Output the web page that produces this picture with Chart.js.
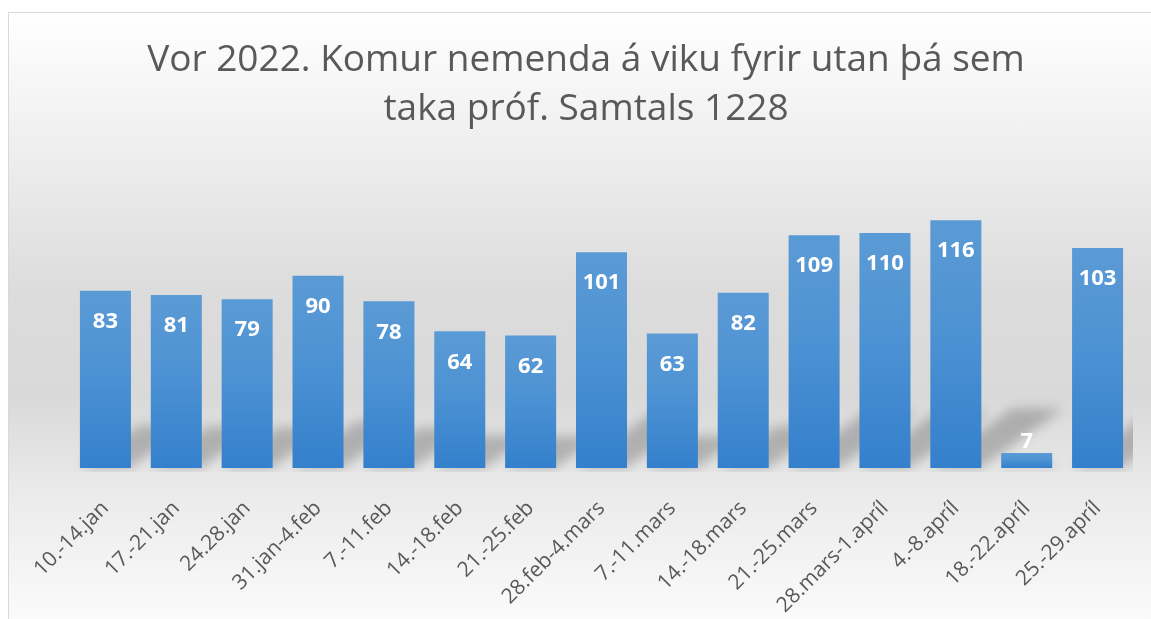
<!DOCTYPE html>
<html>
<head>
<meta charset="utf-8">
<script src="https://cdn.jsdelivr.net/npm/chart.js@4"></script>
<style>
  html, body { margin:0; padding:0; background:#fff; overflow:hidden; }
  .frame {
    position:absolute; left:8px; top:12px; width:1160px; height:620px;
    border:1px solid #d9d9d9; box-sizing:border-box;
    background:linear-gradient(to bottom, #ffffff 0%, #ececec 25%, #dcdcdc 45%, #d9d9d9 62%, #ebebeb 78%, #fcfcfc 100%);
  }
  .wrap { position:absolute; left:0; top:0; width:1142px; height:606px; }
</style>
</head>
<body>
<div class="frame"><div class="wrap"><canvas id="weeksChart"></canvas></div></div>
<script>
// Vor 2022 - komur nemenda á viku
const weeks = ['10.-14.jan','17.-21.jan','24.28.jan','31.jan-4.feb','7.-11.feb','14.-18.feb','21.-25.feb',
  '28.feb-4.mars','7.-11.mars','14.-18.mars','21.-25.mars','28.mars-1.apríl','4.-8.apríl','18.-22.apríl','25.-29.apríl'];
const visits = [83, 81, 79, 90, 78, 64, 62, 101, 63, 82, 109, 110, 116, 7, 103];
const titleLines = ['Vor 2022. Komur nemenda á viku fyrir utan þá sem', 'taka próf. Samtals 1228'];

const FONT = '"Open Sans", "Noto Sans", sans-serif';

function barGradient(c) {
  const chart = c.chart;
  if (!chart.chartArea || !c.parsed) return '#4a90d4';
  const y = chart.scales.y;
  const top = y.getPixelForValue(c.parsed.y), base = y.getPixelForValue(0);
  const g = chart.ctx.createLinearGradient(0, top, 0, base);
  g.addColorStop(0, '#5b9bd5');
  g.addColorStop(0.45, '#4d92d3');
  g.addColorStop(1, '#3480cc');
  return g;
}

// slanted soft shadow behind each bar
const barShadows = {
  id: 'barShadows',
  beforeDatasetsDraw(chart) {
    const { ctx, chartArea } = chart;
    ctx.save();
    ctx.beginPath();
    ctx.rect(chartArea.left, chartArea.top, chartArea.right - chartArea.left, chartArea.bottom - chartArea.top + 4);
    ctx.clip();
    ctx.filter = 'blur(6px)';
    ctx.fillStyle = 'rgba(0,0,0,0.22)';
    chart.getDatasetMeta(0).data.forEach(bar => {
      const h = bar.base - bar.y, w = bar.width;
      const dx = h * 0.33, dy = h * 0.24;
      const l = bar.x - w / 2, r = bar.x + w / 2;
      ctx.beginPath();
      ctx.moveTo(l, bar.base);
      ctx.lineTo(r, bar.base);
      ctx.lineTo(r + dx, bar.base - dy);
      ctx.lineTo(l + dx, bar.base - dy);
      ctx.closePath();
      ctx.fill();
    });
    ctx.restore();
  }
};

// white value labels at the inner top of each bar
const valueLabels = {
  id: 'valueLabels',
  afterDatasetsDraw(chart) {
    const { ctx } = chart;
    ctx.save();
    ctx.font = 'bold 22px ' + FONT;
    ctx.fillStyle = '#ffffff';
    ctx.textAlign = 'center';
    ctx.textBaseline = 'middle';
    chart.getDatasetMeta(0).data.forEach((bar, i) => {
      const h = bar.base - bar.y;
      const y = h < 45 ? bar.y - 11 : bar.y + 31;
      ctx.fillText(String(visits[i]), bar.x, y);
    });
    ctx.restore();
  }
};

new Chart(document.getElementById('weeksChart'), {
  type: 'bar',
  data: {
    labels: weeks,
    datasets: [{ data: visits, backgroundColor: barGradient, borderWidth: 0, barPercentage: 0.72, categoryPercentage: 1 }]
  },
  options: {
    responsive: true, maintainAspectRatio: false, animation: false,
    layout: { padding: { left: 30, right: 18, top: 22, bottom: 0 } },
    plugins: {
      legend: { display: false },
      tooltip: { enabled: false },
      title: {
        display: true, text: titleLines, color: '#595959',
        font: { family: FONT, size: 37, weight: 'normal', lineHeight: 1.35 },
        padding: { top: 0, bottom: 34 }
      }
    },
    scales: {
      x: {
        grid: { display: false }, border: { display: false },
        ticks: { color: '#595959', font: { family: FONT, size: 21 }, minRotation: 45, maxRotation: 45, padding: 20, autoSkip: false },
        afterFit: s => { s.height = 151; }
      },
      y: {
        min: 0, max: 140,
        grid: { display: false }, border: { display: false },
        ticks: { display: false },
        afterFit: s => { s.width = 31; }
      }
    }
  },
  plugins: [barShadows, valueLabels]
});
</script>
</body>
</html>
